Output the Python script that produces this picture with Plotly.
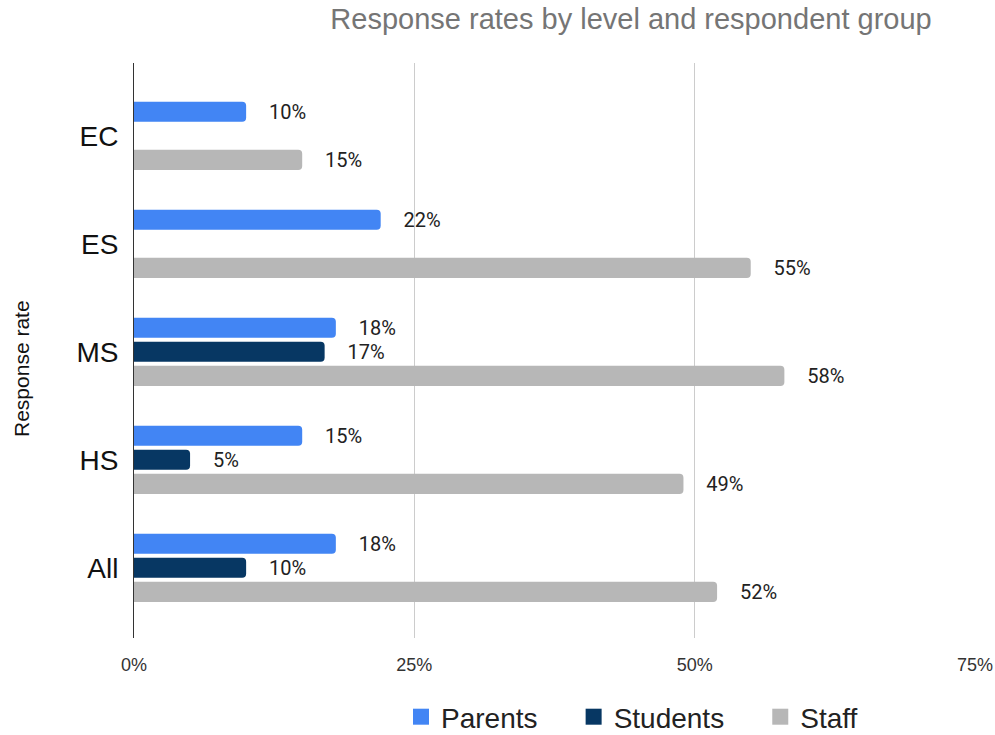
import plotly.graph_objects as go

# Response rates (%) by school level and respondent group
levels = ["EC", "ES", "MS", "HS", "All"]
parents = [10, 22, 18, 15, 18]
students = [None, None, 17, 5, 10]
staff = [15, 55, 58, 49, 52]
x_ticks = [0, 25, 50, 75]
x_tick_labels = ["0%", "25%", "50%", "75%"]

series = [
    ("Parents", parents, "#4285f4"),
    ("Students", students, "#073763"),
    ("Staff", staff, "#b7b7b7"),
]

PAD = "\u00a0" * 4
LEGEND_PAD = "\u00a0" * 4

fig = go.Figure()
for name, vals, color in series:
    fig.add_trace(go.Bar(
        y=levels, x=vals, name=name, orientation="h",
        marker=dict(color=color, line=dict(width=0)),
        text=[None if v is None else f"{PAD}{v}%" for v in vals],
        textposition="outside", constraintext="none", cliponaxis=False,
        textfont=dict(family="Roboto", size=20, color="#222222"),
        showlegend=False, legendgroup=name,
    ))

# legend entries with larger square swatches, spaced apart
for i, (name, vals, color) in enumerate(series):
    label = name + (LEGEND_PAD if i < len(series) - 1 else "")
    fig.add_trace(go.Scatter(
        x=[None], y=[None], mode="markers", name=label, legendgroup=name,
        marker=dict(symbol="square", size=20, color=color),
    ))

fig.update_layout(
    width=995, height=735,
    paper_bgcolor="white", plot_bgcolor="white",
    margin=dict(l=134, r=20, t=63, b=97),
    barmode="group", bargap=0.331, bargroupgap=0.167, barcornerradius=4,
    title=dict(
        text="Response rates by level and respondent group",
        font=dict(family="Liberation Sans, Arial", size=29, color="#757575"),
        x=631 / 995, xanchor="center", xref="container",
        y=1 - 19 / 735, yanchor="middle", yref="container",
    ),
    legend=dict(
        orientation="h", x=632 / 995, xanchor="center", xref="container",
        y=1 - 717 / 735, yanchor="middle", yref="container",
        font=dict(family="Liberation Sans, Arial", size=28, color="#222222"),
        itemwidth=30, tracegroupgap=0,
    ),
    xaxis=dict(
        range=[0, 75], tickvals=x_ticks, ticktext=x_tick_labels,
        showgrid=True, gridcolor="#cccccc", gridwidth=1,
        zeroline=False, showline=False, automargin=False,
        tickfont=dict(family="Liberation Sans Narrow, Arial", size=18, color="#333333"),
        ticks="outside", ticklen=10, tickcolor="rgba(0,0,0,0)",
    ),
    yaxis=dict(
        categoryorder="array", categoryarray=levels,
        range=[4.65, -0.674], automargin=False,
        showgrid=False, showline=True, linecolor="#333333", linewidth=1,
        tickfont=dict(family="Liberation Sans, Arial", size=28, color="#111111"),
        ticks="outside", ticklen=9, tickcolor="rgba(0,0,0,0)",
    ),
    annotations=[dict(
        text="Response rate", textangle=-90,
        xref="paper", yref="paper",
        x=(21 - 134) / 841, y=(638 - 369) / 575,
        xanchor="center", yanchor="middle", showarrow=False,
        font=dict(family="Liberation Sans, Arial", size=21, color="#111111"),
    )],
)

fig.write_html("out.html")
